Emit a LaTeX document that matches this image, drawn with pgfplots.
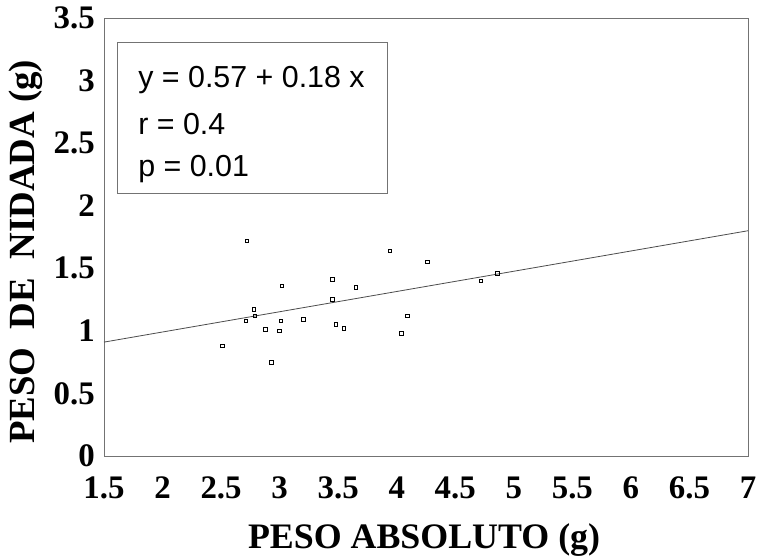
\documentclass[border=0pt]{standalone}
\usepackage{fontspec}
\setmainfont{Liberation Serif}
\newfontfamily\legfont{Liberation Sans}
\usepackage{pgfplots}
\pgfplotsset{compat=1.18}
\begin{document}
\begin{tikzpicture}
\begin{axis}[
  scale only axis,
  width=644bp, height=438bp,
  xmin=1.5, xmax=7, ymin=0, ymax=3.5,
  xtick={1.5,2,...,7}, ytick={0,0.5,...,3.5},
  major tick length=0pt,
  axis line style={black!55, line width=0.8bp},
  /pgf/number format/assume math mode=true,
  xticklabel style={font=\fontsize{33}{36}\selectfont\bfseries, inner sep=1bp, yshift=-20bp},
  yticklabel style={font=\fontsize{33}{36}\selectfont\bfseries, inner sep=1bp, xshift=-8bp},
  xlabel={PESO ABSOLUTO (g)},
  ylabel={PESO\ \ DE\ \ NIDADA (g)},
  xlabel style={font=\fontsize{36}{40}\selectfont\bfseries, at={(axis description cs:0.497,-0.192)}, anchor=center},
  ylabel style={font=\fontsize{37}{42}\selectfont\bfseries, at={(axis description cs:-0.121,0.466)}, anchor=center},
  clip=false,
]
\addplot[black!70, line width=0.8bp] coordinates {(1.5,0.91) (7,1.80)};
\addplot[only marks, mark=square, mark size=1.8bp, mark options={black, line width=0.7bp}] coordinates {
(2.72,1.72) (3.94,1.64) (4.26,1.55) (4.86,1.46) (4.72,1.40)
(3.02,1.36) (3.45,1.41) (3.65,1.35) (3.45,1.25) (2.78,1.17)
(2.79,1.12) (2.71,1.08) (3.01,1.08) (3.20,1.09) (4.09,1.12)
(2.88,1.01) (3.00,1.00) (3.48,1.05) (3.55,1.02) (4.04,0.98)
(2.51,0.88) (2.93,0.75)
};
\node[draw=black!55, line width=0.7bp, anchor=north west, minimum width=270bp, minimum height=151bp, inner sep=0pt] at (axis description cs:0.02,0.945) {};
\node[anchor=base west, inner sep=0pt, font=\legfont\fontsize{30.5}{34}\selectfont] at (axis description cs:0.053,0.842) {y = 0.57 + 0.18 x};
\node[anchor=base west, inner sep=0pt, font=\legfont\fontsize{30.5}{34}\selectfont] at (axis description cs:0.053,0.733) {r = 0.4};
\node[anchor=base west, inner sep=0pt, font=\legfont\fontsize{30.5}{34}\selectfont] at (axis description cs:0.053,0.637) {p = 0.01};
\end{axis}
\pgfresetboundingbox
\path ([shift={(-104bp,-104bp)}]current axis.south west) rectangle ([shift={(659bp,456bp)}]current axis.south west);
\end{tikzpicture}
\end{document}
